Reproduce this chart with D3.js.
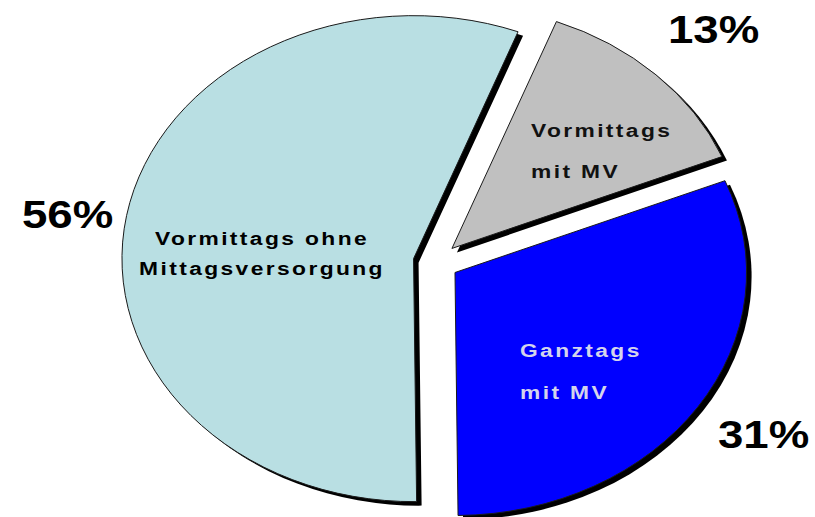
<!DOCTYPE html>
<html>
<head>
<meta charset="utf-8">
<script src="https://cdn.jsdelivr.net/npm/d3@7"></script>
<style>
  body { margin: 0; background: #fff; }
  text { font-family: "Liberation Sans", Arial, sans-serif; font-weight: bold; }
</style>
</head>
<body>
<svg id="chart"></svg>
<script>
// data
var categories = ["Vormittags ohne Mittagsversorgung", "Vormittags mit MV", "Ganztags mit MV"];
var labelLines = [["Vormittags ohne", "Mittagsversorgung"], ["Vormittags", "mit MV"], ["Ganztags", "mit MV"]];
var shares = [56, 13, 31];
var pctLabels = ["56%", "13%", "31%"];
var colors = ["#b9dfe3", "#c0c0c0", "#0000ff"];

var w = 815, h = 517;
var cx = 436, cy = 262, r = 243, sx = 1.2; // pie is stretched sideways
var explode = 19;
var startDeg = 179.4;

// where the texts sit, per slice
var inner = [
  { x: 262, y: [245, 275], anchor: "middle", fill: "#000" },
  { x: 531, y: [137, 178], anchor: "start", fill: "#111" },
  { x: 520, y: [357, 399], anchor: "start", fill: "#d4d4ec" }
];
var outer = [
  { x: 22, y: 228 },
  { x: 668, y: 43 },
  { x: 718, y: 448 }
];

var svg = d3.select("#chart").attr("width", w).attr("height", h);

var pie = d3.pie().sort(null).value(function(d) { return d; })
  .startAngle(startDeg * Math.PI / 180)
  .endAngle(startDeg * Math.PI / 180 + 2 * Math.PI);
var arc = d3.arc().innerRadius(0).outerRadius(r);
var arcs = pie(shares);

function offset(d) {
  var mid = (d.startAngle + d.endAngle) / 2;
  return [explode * Math.sin(mid), -explode * Math.cos(mid)];
}

// drop shadows first
svg.append("g").selectAll("path")
  .data(arcs).enter().append("path")
  .attr("transform", function(d) {
    var o = offset(d);
    return "translate(" + (cx + o[0] * sx + 5) + "," + (cy + o[1] + 4) + ") scale(" + sx + ",1)";
  })
  .attr("d", arc)
  .attr("fill", "#000");

svg.append("g").selectAll("path")
  .data(arcs).enter().append("path")
  .attr("transform", function(d) {
    var o = offset(d);
    return "translate(" + (cx + o[0] * sx) + "," + (cy + o[1]) + ") scale(" + sx + ",1)";
  })
  .attr("d", arc)
  .attr("fill", function(d, i) { return colors[i]; })
  .attr("stroke", "#1a1a1a")
  .attr("stroke-width", 1)
  .attr("vector-effect", "non-scaling-stroke")
  .append("title").text(function(d, i) { return categories[i]; });

// slice labels
labelLines.forEach(function(lines, i) {
  var p = inner[i];
  lines.forEach(function(t, j) {
    svg.append("text")
      .attr("transform", "translate(" + p.x + "," + p.y[j] + ") scale(1.2,1)")
      .attr("text-anchor", p.anchor)
      .attr("font-size", 19)
      .attr("letter-spacing", 2)
      .attr("fill", p.fill)
      .text(t);
  });
});

// percentages
pctLabels.forEach(function(t, i) {
  svg.append("text")
    .attr("transform", "translate(" + outer[i].x + "," + outer[i].y + ") scale(1.2,1)")
    .attr("font-size", 38)
    .attr("fill", "#000")
    .text(t);
});
</script>
</body>
</html>
